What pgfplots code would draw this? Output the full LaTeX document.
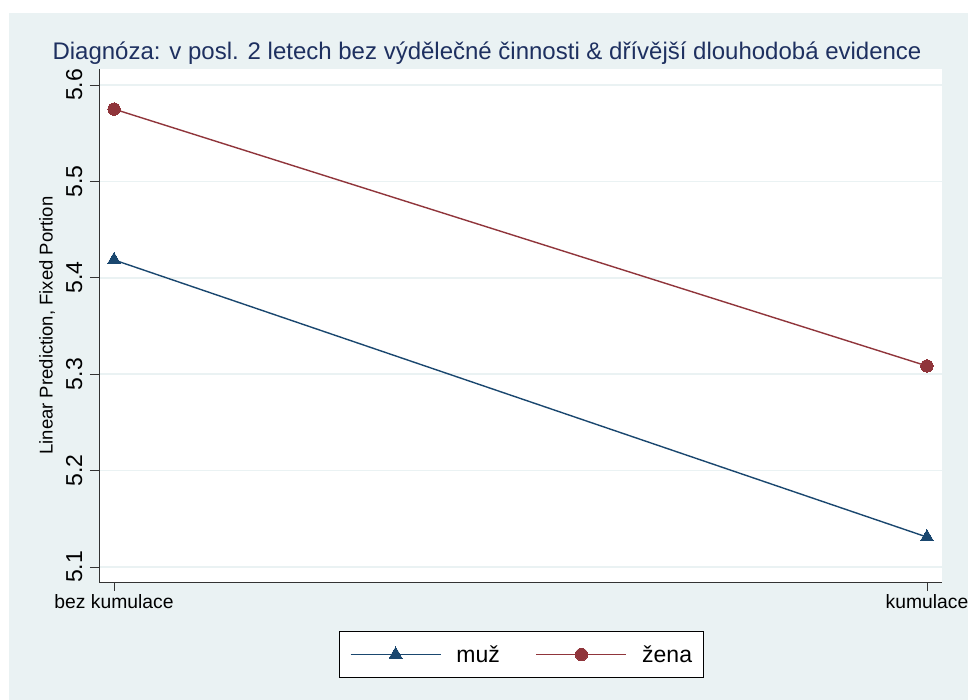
\documentclass[border=0pt]{standalone}
\usepackage{fontspec}
\setmainfont{Liberation Sans}
\usepackage{pgfplots}
\pgfplotsset{compat=1.18}
\definecolor{bgc}{HTML}{EAF2F3}
\definecolor{navy}{HTML}{1A476F}
\definecolor{maroon}{HTML}{90353B}
\definecolor{titc}{HTML}{1E3060}
\begin{document}
\begin{tikzpicture}[x=1pt,y=1pt]
\useasboundingbox (0,0) rectangle (968,700);
\fill[white] (0,0) rectangle (968,700);
\fill[bgc] (9,0) rectangle (968,687);
\node[anchor=base, text=titc, font=\fontsize{24}{28}\selectfont] at (487,640) {Diagnóza: v posl. 2 letech bez výdělečné činnosti \& dřívější dlouhodobá evidence};
\begin{axis}[
  at={(99pt,118pt)}, anchor=south west,
  scale only axis, width=843pt, height=513pt,
  xmin=-0.0185, xmax=1.0185, ymin=5.0844, ymax=5.6166,
  axis x line*=bottom, axis y line*=left,
  axis line style={-, line width=0.8pt, black!80},
  axis background/.style={fill=white},
  xtick={0,1}, xticklabels={bez kumulace, kumulace},
  ytick={5.1,5.2,5.3,5.4,5.5,5.6},
  yticklabels={5.1,5.2,5.3,5.4,5.5,5.6},
  tick align=outside, major tick length=9pt,
  tick style={line width=0.8pt, black!80},
  ymajorgrids, grid style={bgc, line width=1.5pt},
  xticklabel style={font=\fontsize{19.3}{22}\selectfont, anchor=north},
  yticklabel style={font=\fontsize{23}{26}\selectfont, rotate=90, anchor=south},
  yticklabel shift=4pt,
  ylabel={Linear Prediction, Fixed Portion},
  ylabel style={font=\fontsize{18.5}{21}\selectfont, at={(axis description cs:-0.0617,0.5)}, anchor=center},
  legend columns=2,
  legend style={at={(0.5006,-0.1413)}, anchor=center, draw=black, fill=white,
    line width=0.8pt, font=\fontsize{23}{26}\selectfont,
    inner xsep=11pt, inner ysep=12pt,
    nodes={inner xsep=0pt},
    /tikz/every odd column/.append style={column sep=15pt},
    /tikz/every even column/.append style={column sep=36pt}},
  legend image code/.code={
    \draw[#1, mark=none] (0pt,0pt) -- (90pt,0pt);
    \draw[#1, only marks] plot coordinates {(45pt,0pt)};
  },
]
\addplot[navy, line width=1.4pt, mark=triangle*, mark size=7.5pt, mark options={solid, line width=0pt}] coordinates {(0,5.4185) (1,5.131)};
\addlegendentry{muž}
\addplot[maroon, line width=1.4pt, mark=*, mark size=6.2pt, mark options={solid, line width=0pt}] coordinates {(0,5.575) (1,5.3085)};
\addlegendentry{žena}
\end{axis}
\end{tikzpicture}
\end{document}
